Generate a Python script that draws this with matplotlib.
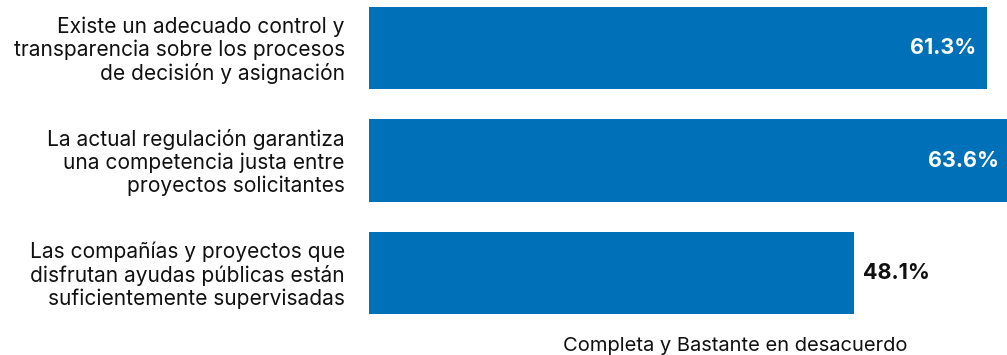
import matplotlib.pyplot as plt

categories = [
    "Existe un adecuado control y\ntransparencia sobre los procesos\nde decisión y asignación",
    "La actual regulación garantiza\nuna competencia justa entre\nproyectos solicitantes",
    "Las compañías y proyectos que\ndisfrutan ayudas públicas están\nsuficientemente supervisadas",
]
values = [61.3, 63.6, 48.1]
value_labels = ["61.3%", "63.6%", "48.1%"]
x_title = "Completa y Bastante en desacuerdo"

BLUE = "#0070B9"
FONT = ["Inter", "DejaVu Sans"]

W, H = 1007, 355
fig = plt.figure(figsize=(W / 100, H / 100), dpi=100)
ax_left = 369 / W
ax = fig.add_axes([ax_left, 0, 1 - ax_left, 1])

pos = list(range(len(values)))
ax.barh(pos, values, height=0.73, color=BLUE)
ax.set_xlim(0, 63.26)
ax.set_ylim(2.729, -0.427)
ax.axis("off")

for p, v, lab in zip(pos, values, value_labels):
    if v > 55:
        ax.text(v - 1.1, p, lab, ha="right", va="center", color="white",
                fontsize=15.5, fontweight="bold", family=FONT)
    else:
        ax.text(v + 0.85, p, lab, ha="left", va="center", color="#111111",
                fontsize=15.5, fontweight="bold", family=FONT)

for p, cat in zip(pos, categories):
    ax.text(-2.4, p + 0.02, cat, ha="right", va="center", color="#111111",
            fontsize=15.1, family=FONT, linespacing=1.15)

fig.text(735 / W, 1 - 346 / H, x_title, ha="center", va="center",
         color="#111111", fontsize=14.5, family=FONT)

fig.savefig("out.png", dpi=100)
